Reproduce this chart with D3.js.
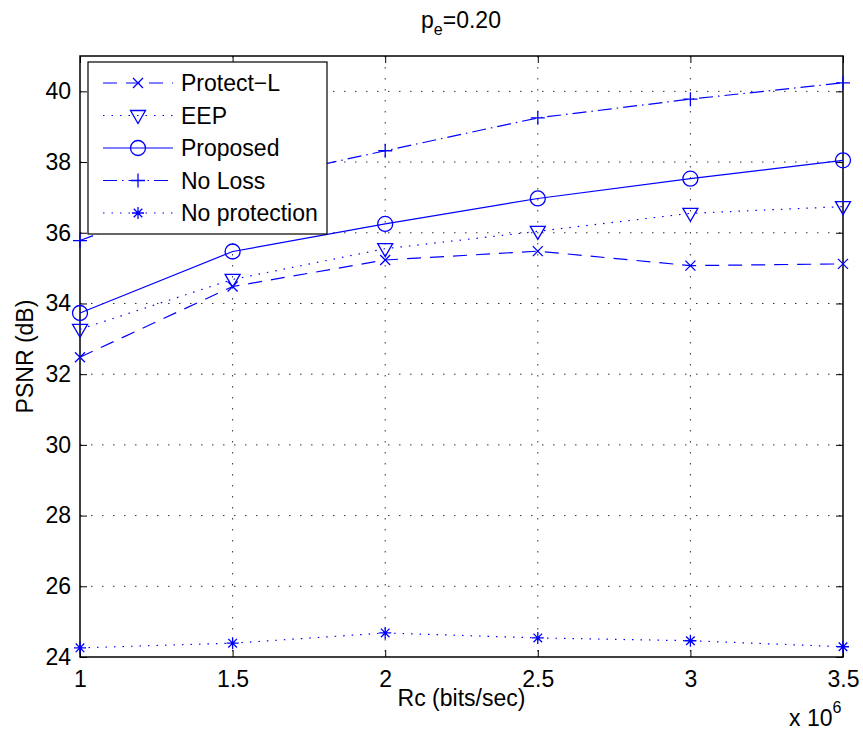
<!DOCTYPE html>
<html>
<head>
<meta charset="utf-8">
<script src="https://cdn.jsdelivr.net/npm/d3@7"></script>
<style>
    body { margin: 0; background: #fff; }
    text { font-family: "Liberation Sans", Arial, sans-serif; fill: #000; }
</style>
</head>
<body>
<svg id="chart" width="863" height="731"></svg>
<script>
// Rc in units of 10^6 bits/sec
var rates = [1, 1.5, 2, 2.5, 3, 3.5];
var xTicks = [1, 1.5, 2, 2.5, 3, 3.5];
var yTicks = [24, 26, 28, 30, 32, 34, 36, 38, 40];

var protectL = [32.48, 34.48, 35.23, 35.48, 35.07, 35.12];
var eep = [33.27, 34.68, 35.55, 36.04, 36.55, 36.74];
var proposed = [33.73, 35.47, 36.25, 36.97, 37.53, 38.05];
var noLoss = [35.78, 37.38, 38.32, 39.25, 39.78, 40.24];
var noProtection = [24.26, 24.39, 24.68, 24.54, 24.46, 24.29];

var seriesNames = ["Protect\u2212L", "EEP", "Proposed", "No Loss", "No protection"];

var blue = "#0000ff";
var fontSize = 23;

var series = [
    {name: seriesNames[0], values: protectL, dash: "14,9", marker: "x"},
    {name: seriesNames[1], values: eep, dash: "1.5,7", marker: "v"},
    {name: seriesNames[2], values: proposed, dash: null, marker: "o"},
    {name: seriesNames[3], values: noLoss, dash: "14,5,1.5,5", marker: "+"},
    {name: seriesNames[4], values: noProtection, dash: "1.5,7", marker: "*"}
];

var svg = d3.select("#chart"),
    margin = {top: 56, right: 20, bottom: 74, left: 80},
    width = 863 - margin.left - margin.right,
    height = 731 - margin.top - margin.bottom,
    g = svg.append("g").attr("transform", "translate(" + margin.left + "," + margin.top + ")");

var x = d3.scaleLinear().domain([1, 3.5]).range([0, width]);
var y = d3.scaleLinear().domain([24, 41]).range([height, 0]);

// grid
g.append("g").selectAll("line")
    .data(xTicks.slice(1, -1))
    .enter().append("line")
    .attr("x1", function (d) { return x(d); })
    .attr("x2", function (d) { return x(d); })
    .attr("y1", 0).attr("y2", height)
    .attr("stroke", "#333").attr("stroke-width", 1)
    .attr("stroke-dasharray", "1.5,9.5");

g.append("g").selectAll("line")
    .data(yTicks.slice(1))
    .enter().append("line")
    .attr("y1", function (d) { return y(d); })
    .attr("y2", function (d) { return y(d); })
    .attr("x1", 0).attr("x2", width)
    .attr("stroke", "#333").attr("stroke-width", 1)
    .attr("stroke-dasharray", "1.5,9.5");

// axes (ticks inside, on all four sides)
var tickLen = 7;
g.append("g")
    .attr("transform", "translate(0," + height + ")")
    .call(d3.axisBottom(x).tickValues(xTicks).tickSizeInner(-tickLen).tickSizeOuter(0).tickPadding(14)
        .tickFormat(d3.format("~g")));
g.append("g")
    .call(d3.axisTop(x).tickValues(xTicks).tickSizeInner(-tickLen).tickSizeOuter(0).tickFormat(""));
g.append("g")
    .call(d3.axisLeft(y).tickValues(yTicks).tickSizeInner(-tickLen).tickSizeOuter(0).tickPadding(9));
g.append("g")
    .attr("transform", "translate(" + width + ",0)")
    .call(d3.axisRight(y).tickValues(yTicks).tickSizeInner(-tickLen).tickSizeOuter(0).tickFormat(""));

g.selectAll(".domain").remove();
g.selectAll(".tick line").attr("stroke", "#000").attr("stroke-width", 1);
g.selectAll(".tick text").attr("font-size", fontSize).attr("font-family", "Liberation Sans, Arial, sans-serif");

g.append("rect")
    .attr("width", width).attr("height", height)
    .attr("fill", "none").attr("stroke", "#000").attr("stroke-width", 1.5);

// markers
function drawMarker(sel, type) {
    if (type === "x") {
        sel.append("path").attr("d", "M-5,-5L5,5M-5,5L5,-5");
    } else if (type === "v") {
        sel.append("path").attr("d", "M-7.5,-5L7.5,-5L0,8Z");
    } else if (type === "o") {
        sel.append("circle").attr("r", 7.5);
    } else if (type === "+") {
        sel.append("path").attr("d", "M-7,0L7,0M0,-7L0,7");
    } else if (type === "*") {
        sel.append("path").attr("d", "M-6,0L6,0M0,-6L0,6M-4.3,-4.3L4.3,4.3M-4.3,4.3L4.3,-4.3");
    }
    sel.selectAll("path, circle")
        .attr("fill", "none").attr("stroke", blue).attr("stroke-width", 1.3);
}

var line = d3.line()
    .x(function (d, i) { return x(rates[i]); })
    .y(function (d) { return y(d); });

var lines = g.append("g");
series.forEach(function (s) {
    lines.append("path")
        .datum(s.values)
        .attr("d", line)
        .attr("fill", "none")
        .attr("stroke", blue)
        .attr("stroke-width", 1.2)
        .attr("stroke-dasharray", s.dash);
    lines.append("g").selectAll("g")
        .data(s.values)
        .enter().append("g")
        .attr("transform", function (d, i) {
            return "translate(" + x(rates[i]) + "," + y(d) + ")";
        })
        .each(function () { drawMarker(d3.select(this), s.marker); });
});

// legend
var legend = g.append("g").attr("transform", "translate(8,6)");
legend.append("rect")
    .attr("width", 239).attr("height", 172)
    .attr("fill", "#fff").attr("stroke", "#000").attr("stroke-width", 1.2);

var item = legend.selectAll(".item")
    .data(series)
    .enter().append("g")
    .attr("class", "item")
    .attr("transform", function (d, i) { return "translate(0," + (21 + i * 32.5) + ")"; });

item.append("line")
    .attr("x1", 15).attr("x2", 85)
    .attr("stroke", blue).attr("stroke-width", 1.2)
    .attr("stroke-dasharray", function (d) { return d.dash; });
item.append("g")
    .attr("transform", "translate(50,0)")
    .each(function (d) { drawMarker(d3.select(this), d.marker); });
item.append("text")
    .attr("x", 93).attr("dy", "0.36em")
    .attr("font-size", fontSize)
    .text(function (d) { return d.name; });

// labels
svg.append("text")
    .attr("x", margin.left + width / 2).attr("y", 706)
    .attr("text-anchor", "middle").attr("font-size", fontSize)
    .text("Rc (bits/sec)");

svg.append("text")
    .attr("transform", "translate(33," + (margin.top + height / 2) + ") rotate(-90)")
    .attr("text-anchor", "middle").attr("font-size", fontSize)
    .text("PSNR (dB)");

var mult = svg.append("text")
    .attr("x", 789).attr("y", 726).attr("font-size", fontSize);
mult.append("tspan").text("x 10");
mult.append("tspan").attr("dy", -13).attr("font-size", 16).text("6");

var title = svg.append("text")
    .attr("x", 461).attr("y", 28)
    .attr("text-anchor", "middle").attr("font-size", fontSize);
title.append("tspan").text("p");
title.append("tspan").attr("dy", 7).attr("font-size", 16).text("e");
title.append("tspan").attr("dy", -7).text("=0.20");
</script>
</body>
</html>
